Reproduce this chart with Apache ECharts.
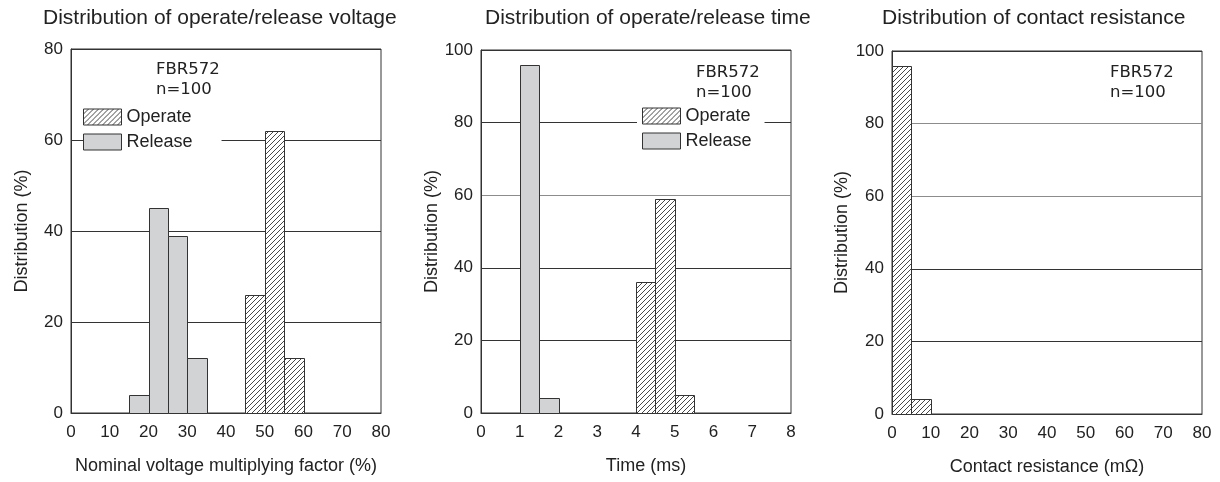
<!DOCTYPE html>
<html><head><meta charset="utf-8">
<script src="https://cdn.jsdelivr.net/npm/echarts@6/dist/echarts.min.js"></script>
<style>html,body{margin:0;padding:0;background:#fff}#c{width:1220px;height:482px}</style>
</head><body><div id="c"></div>
<script>
// ---- data ----
const chartTitles = ['Distribution of operate/release voltage', 'Distribution of operate/release time', 'Distribution of contact resistance'];
const xAxisNames = ['Nominal voltage multiplying factor (%)', 'Time (ms)', 'Contact resistance (m\u03A9)'];
const yAxisName = 'Distribution (%)';
const noteText = 'FBR572\nn=100';

// Chart 1: operate/release voltage, bins [from, to]
const voltageReleaseBins = [[15, 20], [20, 25], [25, 30], [30, 35]];
const voltageReleaseValues = [4, 45, 39, 12];
const voltageOperateBins = [[45, 50], [50, 55], [55, 60]];
const voltageOperateValues = [26, 62, 12];
// Chart 2: operate/release time (ms)
const timeReleaseBins = [[1, 1.5], [1.5, 2]];
const timeReleaseValues = [96, 4];
const timeOperateBins = [[4, 4.5], [4.5, 5], [5, 5.5]];
const timeOperateValues = [36, 59, 5];
// Chart 3: contact resistance (mOhm)
const resistanceBins = [[0, 5], [5, 10]];
const resistanceValues = [96, 4];

// axis ranges
const xRanges = [[0, 80, 10], [0, 8, 1], [0, 80, 10]];
const yRanges = [[0, 80, 20], [0, 100, 20], [0, 100, 20]];

// ---- styling ----
const FONT = 'Liberation Sans, Arial, sans-serif';
const INK = '#222';
const LINE = '#333';
const GRAY_LINE = '#8c8c8c';
const RELEASE_FILL = '#d1d3d4';

function makeHatch() {
  const s = 5;
  const c = document.createElement('canvas');
  c.width = s; c.height = s;
  const g = c.getContext('2d');
  g.fillStyle = '#fff'; g.fillRect(0, 0, s, s);
  g.strokeStyle = '#333'; g.lineWidth = 0.9;
  g.beginPath();
  g.moveTo(0, s); g.lineTo(s, 0);
  g.moveTo(-1, 1); g.lineTo(1, -1);
  g.moveTo(s - 1, s + 1); g.lineTo(s + 1, s - 1);
  g.stroke();
  return c;
}
const hatch = { image: makeHatch(), repeat: 'repeat' };

function toRows(bins, vals) { return bins.map((b, i) => [b[0], b[1], vals[i]]); }

function histSeries(name, idx, rows, fill) {
  return {
    type: 'custom', name: name, xAxisIndex: idx, yAxisIndex: idx, z: 5,
    itemStyle: { color: fill, borderColor: LINE, borderWidth: 1 },
    encode: { x: [0, 1], y: 2 },
    data: rows,
    renderItem: function (params, api) {
      const p0 = api.coord([api.value(0), api.value(2)]);
      const p1 = api.coord([api.value(1), 0]);
      const x0 = Math.round(p0[0]) + 0.5, x1 = Math.round(p1[0]) + 0.5;
      const y0 = Math.round(p0[1]) + 0.5, y1 = Math.round(p1[1]) + 0.5;
      return {
        type: 'rect',
        shape: { x: x0, y: y0, width: x1 - x0, height: y1 - y0 },
        style: { fill: fill, stroke: LINE, lineWidth: 1 }
      };
    }
  };
}

const grids = [
  { left: 71, top: 49, width: 310, height: 364 },
  { left: 481, top: 50, width: 310, height: 363 },
  { left: 892, top: 51, width: 310, height: 363 }
];
const splitColors = [
  [LINE, LINE, LINE, LINE, LINE],
  [LINE, LINE, LINE, GRAY_LINE, LINE, LINE],
  [LINE, LINE, LINE, GRAY_LINE, GRAY_LINE, LINE]
];
const titleLefts = [43, 485, 882];
const yNameGaps = [40, 39, 41];
const xNamePads = [[0, 0, 0, 0], [0, 0, 0, 20], [0, 0, 0, 0]];
const noteLefts = [[156, 60], [696, 63], [1110, 63]];

const option = {
  backgroundColor: '#fff',
  animation: false,
  title: chartTitles.map((t, i) => ({
    text: t, left: titleLefts[i], top: 8, padding: 0,
    textStyle: { fontFamily: FONT, fontSize: 21, fontWeight: 'normal', color: INK }
  })),
  grid: grids.map(g => Object.assign({ show: true, borderColor: LINE, borderWidth: 1, backgroundColor: 'transparent' }, g)),
  xAxis: xRanges.map((r, i) => ({
    type: 'value', gridIndex: i, min: r[0], max: r[1], interval: r[2],
    name: xAxisNames[i], nameLocation: 'middle', nameGap: 44,
    nameTextStyle: { fontFamily: FONT, fontSize: 18, color: INK, padding: xNamePads[i] },
    axisLine: { show: true, lineStyle: { color: LINE, width: 1 } },
    axisTick: { show: false },
    splitLine: { show: false },
    axisLabel: { fontFamily: FONT, fontSize: 17, color: INK, margin: 11 }
  })),
  yAxis: yRanges.map((r, i) => ({
    type: 'value', gridIndex: i, min: r[0], max: r[1], interval: r[2],
    name: yAxisName, nameLocation: 'middle', nameGap: yNameGaps[i],
    nameTextStyle: { fontFamily: FONT, fontSize: 18, color: INK },
    axisLine: { show: true, lineStyle: { color: LINE, width: 1 } },
    axisTick: { show: false },
    splitLine: { show: true, lineStyle: { color: splitColors[i], width: 1 } },
    axisLabel: { fontFamily: FONT, fontSize: 17, color: INK, margin: 8 }
  })),
  legend: [
    { left: 83, top: 106, padding: [2, 29, 2, 0] },
    { left: 637, top: 105, padding: [2, 13, 2, 5] }
  ].map(l => Object.assign({
    orient: 'vertical', backgroundColor: '#fff', itemWidth: 38, itemHeight: 16, itemGap: 7,
    selectedMode: false,
    textStyle: { fontFamily: FONT, fontSize: 18, color: INK },
    data: [
      { name: 'Operate', icon: 'rect', itemStyle: { color: hatch, borderColor: LINE, borderWidth: 1 } },
      { name: 'Release', icon: 'rect', itemStyle: { color: RELEASE_FILL, borderColor: LINE, borderWidth: 1 } }
    ]
  }, l)),
  graphic: noteLefts.map(p => ({
    type: 'text', left: p[0], top: p[1], z: 10,
    style: { text: noteText, font: '16.5px "DejaVu Sans"', fill: INK, lineHeight: 20 }
  })),
  series: [
    histSeries('Release', 0, toRows(voltageReleaseBins, voltageReleaseValues), RELEASE_FILL),
    histSeries('Operate', 0, toRows(voltageOperateBins, voltageOperateValues), hatch),
    histSeries('Release', 1, toRows(timeReleaseBins, timeReleaseValues), RELEASE_FILL),
    histSeries('Operate', 1, toRows(timeOperateBins, timeOperateValues), hatch),
    histSeries('Operate', 2, toRows(resistanceBins, resistanceValues), hatch)
  ]
};
const chart = echarts.init(document.getElementById('c'), null, { renderer: 'canvas' });
chart.setOption(option);
</script>
</body></html>
